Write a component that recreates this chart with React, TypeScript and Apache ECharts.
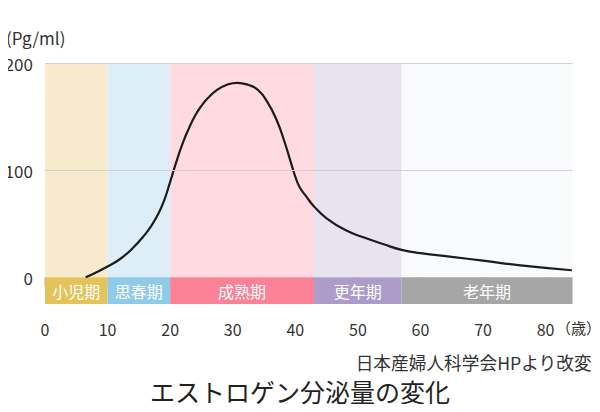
import React, { useEffect, useRef } from "react";
import * as echarts from "echarts";

const ages = [6.5, 8, 10, 12, 14, 16, 17, 18, 19, 20, 21, 22, 23, 24, 25, 26, 27.5, 29, 30.7, 32.5, 34, 35.5, 37, 38.3, 39.3, 40, 40.7, 41.8, 43, 45, 48, 51, 54, 57, 60, 65, 70, 76, 84.2];
const estrogen = [0, 4, 10, 17, 27, 40, 48, 58, 71, 89, 108, 125, 139, 151, 160, 167, 175, 179.5, 181.5, 179.5, 175, 164, 147, 126, 107, 94, 84, 75, 66, 55, 44, 37, 31, 25.5, 22.5, 19, 15.5, 11, 6.5];

const stageNames = ["小児期", "思春期", "成熟期", "更年期", "老年期"];
const stageStart = [0, 10, 20, 43, 57];
const stageEnd = [10, 20, 43, 57, 84.3];
const bgColors = ["#f8ebcd", "#ddeef8", "#ffdbe1", "#e9e2ef", "#fafbfd"];
const stripColors = ["#e4c35b", "#8fcbe9", "#fb8196", "#ad9bc9", "#a6a6a6"];

const xTickLabels = [0, 10, 20, 30, 40, 50, 60, 70, 80];
const yTickLabels = [0, 100, 200];
const yMin = -25;
const yMax = 200;
const xMax = 84.3;

const FONT = "'Noto Sans CJK JP', 'Noto Sans', sans-serif";

export default function App() {
  const ref = useRef<HTMLDivElement>(null);
  useEffect(() => {
    if (!ref.current) return;
    const chart = echarts.init(ref.current, null, { renderer: "svg" });

    const bgAreas = stageNames.map((_, i) => [
      { xAxis: stageStart[i], yAxis: 0, itemStyle: { color: bgColors[i] } },
      { xAxis: stageEnd[i], yAxis: yMax },
    ]);
    const stripAreas = stageNames.map((n, i) => [
      {
        name: n,
        xAxis: stageStart[i],
        yAxis: yMin,
        itemStyle: { color: stripColors[i] },
        label: {
          show: true,
          position: "inside",
          color: "#ffffff",
          fontSize: 16,
          fontFamily: FONT,
        },
      },
      { xAxis: stageEnd[i], yAxis: 0 },
    ]);

    chart.setOption({
      animation: false,
      grid: { left: 45, top: 63, width: 527.5, height: 241 },
      xAxis: {
        type: "value",
        min: 0,
        max: xMax,
        axisLine: { show: false },
        axisTick: {
          show: true,
          length: 9,
          customValues: xTickLabels,
          lineStyle: { color: "#c4c4d6", width: 1.5 },
        },
        splitLine: { show: false },
        axisLabel: {
          margin: 17,
          fontSize: 16,
          color: "#333",
          fontFamily: FONT,
          customValues: xTickLabels,
          formatter: (v: number) => String(v),
        },
      },
      yAxis: {
        type: "value",
        min: yMin,
        max: yMax,
        interval: 25,
        axisLine: { show: false },
        axisTick: { show: false },
        splitLine: { show: false },
        axisLabel: {
          margin: 12,
          fontSize: 17,
          color: "#333",
          fontFamily: FONT,
          formatter: (v: number) => (yTickLabels.includes(v) ? String(v) : ""),
        },
      },
      series: [
        {
          type: "line",
          data: [],
          z: 1,
          silent: true,
          markArea: { silent: true, data: [...bgAreas, ...stripAreas] },
        },
        {
          type: "line",
          data: [],
          z: 2,
          silent: true,
          markLine: {
            silent: true,
            symbol: "none",
            label: { show: false },
            lineStyle: { color: "#d8ccd6", width: 1.2, type: "solid" },
            data: [100, 200].map((y) => [
              { coord: [0, y] },
              { coord: [xMax, y] },
            ]),
          },
        },
        {
          type: "line",
          z: 3,
          data: ages.map((a, i) => [a, estrogen[i]]),
          smooth: 0.5,
          symbol: "none",
          lineStyle: { color: "#1c1c1c", width: 2.2 },
        },
      ],
      graphic: [
        {
          type: "text",
          left: 6,
          top: 29,
          style: { text: "(Pg/ml)", fill: "#333", fontSize: 17, fontFamily: FONT },
        },
        {
          type: "text",
          left: 556,
          top: 320,
          style: { text: "（歳）", fill: "#333", fontSize: 15, fontFamily: FONT },
        },
        {
          type: "text",
          right: 8,
          top: 353,
          style: { text: "日本産婦人科学会HPより改変", fill: "#333", fontSize: 17.7, fontFamily: FONT },
        },
        {
          type: "text",
          left: "center",
          top: 378,
          style: { text: "エストロゲン分泌量の変化", fill: "#222", fontSize: 25, fontFamily: FONT },
        },
      ],
    });
    return () => chart.dispose();
  }, []);
  return <div ref={ref} style={{ width: 600, height: 412, margin: -8 }} />;
}
